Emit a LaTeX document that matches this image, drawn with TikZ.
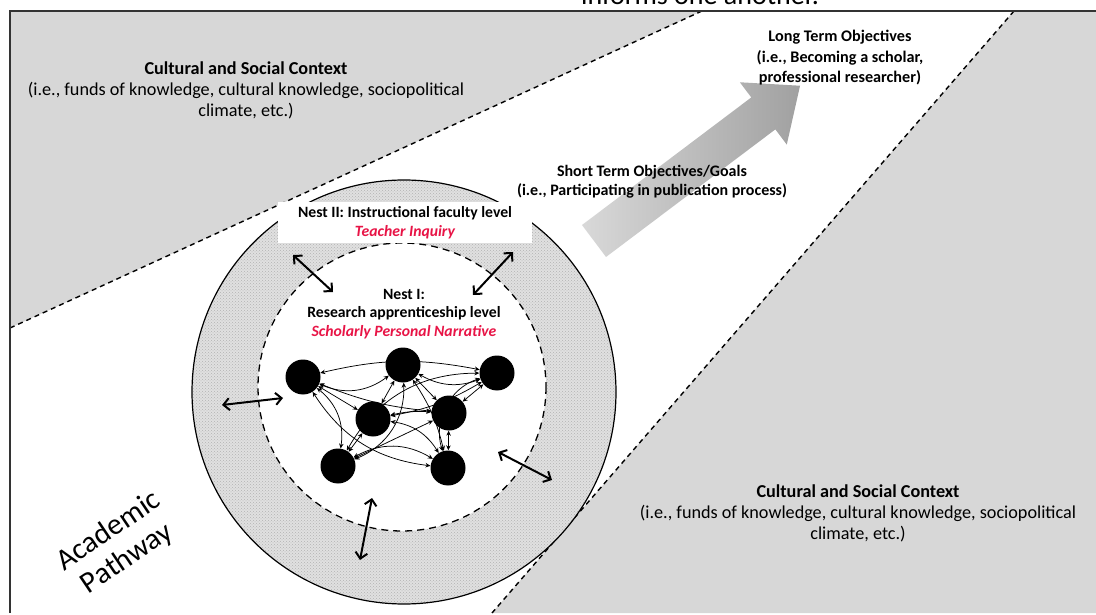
\documentclass[tikz,border=0pt]{standalone}
\usepackage{fontspec}
\setmainfont{Carlito}
\usetikzlibrary{arrows.meta,patterns,positioning}

\definecolor{ctxgray}{RGB}{215,215,215}
\definecolor{inqred}{RGB}{232,20,70}

\begin{document}
\begin{tikzpicture}[x=1pt,y=-1pt]
    \tikzstyle{student}=[circle,fill=black,minimum size=35pt,inner sep=0pt]
    \tikzstyle{link}=[{Stealth[length=5pt,width=4.5pt]}-{Stealth[length=5pt,width=4.5pt]},line width=0.75pt]
    \tikzstyle{bigarrow}=[{Straight Barb[length=6pt,width=12pt]}-{Straight Barb[length=6pt,width=12pt]},line width=2pt]
    \tikzstyle{pathline}=[dash pattern=on 5pt off 4pt,line width=1.4pt]
    \tikzstyle{ctxtext}=[font=\fontsize{18.2}{21}\selectfont,align=center]
    \tikzstyle{objtext}=[font=\fontsize{16.2}{20.5}\selectfont\bfseries,align=center]
    \tikzstyle{nesttext}=[font=\fontsize{15.7}{18.5}\selectfont\bfseries,align=center,inner sep=0pt]

    \useasboundingbox (0,0) rectangle (1096,615);
    \clip (0,0) rectangle (1096,615);

    %%%%%%%%%%%%%%%%%%%%%%%%%%%%%%%%%%%%%%%%%%%%
    %%% BACKGROUND: CONTEXT AND PATHWAY
    %%%%%%%%%%%%%%%%%%%%%%%%%%%%%%%%%%%%%%%%%%%%
    \coordinate (UL-a) at (10,328);
    \coordinate (UL-b) at (702,11);
    \coordinate (LR-a) at (1014,11);
    \coordinate (LR-b) at (492,613);

    \fill[ctxgray] (10,11) -- (UL-b) -- (UL-a) -- cycle;
    \fill[ctxgray] (LR-a) -- (1100,11) -- (1100,613) -- (LR-b) -- cycle;
    \draw[pathline] (UL-a) -- (UL-b);
    \draw[pathline] (LR-a) -- (LR-b);
    \draw[line width=2.2pt,black!80] (10,613) -- (10,11) -- (1100,11);

    \node[anchor=base,font=\fontsize{28}{34}\selectfont] (caption) at (700,5) {informs one another.};

    % the big objective arrow
    \begin{scope}[shift={(594,241)},rotate=37]
        \shade[left color=black!15,right color=black!37]
            (0,-20) -- (212,-20) -- (212,-39) -- (258,0) -- (212,39) -- (212,20) -- (0,20) -- cycle;
    \end{scope}

    %%%%%%%%%%%%%%%%%%%%%%%%%%%%%%%%%%%%%%%%%%%%
    %%% DRAW THE NESTS
    %%%%%%%%%%%%%%%%%%%%%%%%%%%%%%%%%%%%%%%%%%%%
    \draw[line width=1.2pt,preaction={fill=black!12},pattern=crosshatch dots,pattern color=black!30]
        (404,392) circle (212);
    \draw[dash pattern=on 7pt off 5pt,line width=1.3pt,fill=white] (402,387) circle (144);

    \node[nesttext,fill=white,minimum width=254pt,minimum height=41pt] (nest2) at (405,222.5)
        {Nest II: Instructional faculty level\\{\color{inqred}\itshape Teacher Inquiry}};
    \node[nesttext] (nest1) at (404,314)
        {Nest I:\\Research apprenticeship level\\{\color{inqred}\itshape Scholarly Personal Narrative}};

    %%%%%%%%%%%%%%%%%%%%%%%%%%%%%%%%%%%%%%%%%%%%
    %%% DRAW THE STUDENTS
    %%%%%%%%%%%%%%%%%%%%%%%%%%%%%%%%%%%%%%%%%%%%
    \foreach \name/\x/\y in {1/303/377,2/403/365,3/497/373,4/373/419,5/449/413,6/338/466,7/448/468}
        \node[student] (S-\name) at (\x,\y) {};

    \foreach \a/\b/\ang in {1/2/-30,2/3/-25,1/3/12,1/5/-8,1/4/0,1/6/30,2/6/35,2/4/0,2/5/0,3/5/0,
                            3/6/-30,3/7/-45,4/5/8,4/6/0,4/7/25,5/6/0,5/7/0,6/7/30,4/3/-10,1/7/-25,2/7/10}
        \draw[link] (S-\a) to[bend left=\ang] (S-\b);

    % exchange between the nests and the context
    \foreach \n/\xa/\ya/\xb/\yb in {1/293/255/333/292,2/513/252/473/295,3/222/405/283/398,
                                    4/498/452/552/480,5/372/498/360/560}
    {
        \coordinate (T-\n) at (\xa,\ya);
        \coordinate (H-\n) at (\xb,\yb);
        \draw[bigarrow] (T-\n) -- (H-\n);
    }

    %%%%%%%%%%%%%%%%%%%%%%%%%%%%%%%%%%%%%%%%%%%%
    %%% LABELS
    %%%%%%%%%%%%%%%%%%%%%%%%%%%%%%%%%%%%%%%%%%%%
    \node[ctxtext] (ctx-ul) at (246,90)
        {\textbf{Cultural and Social Context}\\(i.e., funds of knowledge, cultural knowledge, sociopolitical\\climate, etc.)};
    \node[ctxtext] (ctx-lr) at (858,513)
        {\textbf{Cultural and Social Context}\\(i.e., funds of knowledge, cultural knowledge, sociopolitical\\climate, etc.)};
    \node[objtext] (lto) at (840,58)
        {Long Term Objectives\\(i.e., Becoming a scholar,\\professional researcher)};
    \node[objtext,font=\fontsize{16}{19}\selectfont\bfseries] (sto) at (652,181.5)
        {Short Term Objectives/Goals\\(i.e., Participating in publication process)};
    \node[rotate=34,font=\fontsize{30}{33}\selectfont,align=center] (pathway) at (118,545)
        {Academic\\Pathway};
\end{tikzpicture}
\end{document}
